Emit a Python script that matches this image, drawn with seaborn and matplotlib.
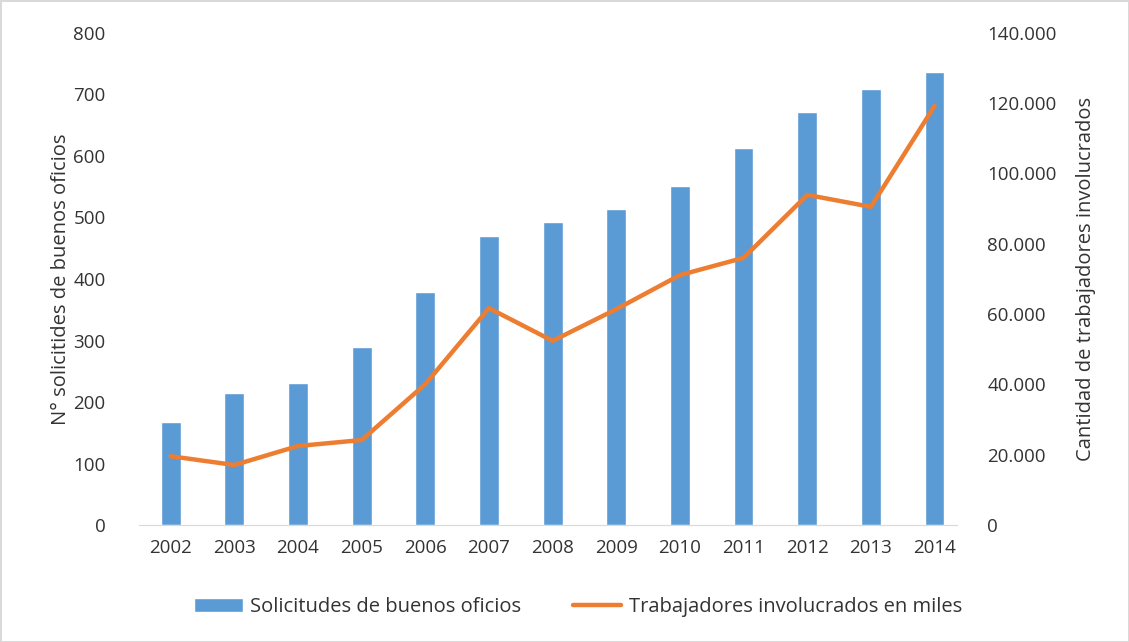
import seaborn as sns
import pandas as pd
import matplotlib.pyplot as plt
from matplotlib.ticker import FuncFormatter

years = ["2002", "2003", "2004", "2005", "2006", "2007", "2008",
         "2009", "2010", "2011", "2012", "2013", "2014"]
solicitudes = [168, 214, 231, 290, 378, 469, 492, 514, 551, 612, 672, 708, 736]
trabajadores = [19600, 17100, 22500, 24200, 40100, 61700, 52400,
                61400, 71100, 76000, 93900, 90500, 119200]

df = pd.DataFrame({"year": years, "sol": solicitudes, "trab": trabajadores})

sns.set_style("white")
plt.rcParams["font.family"] = ["Open Sans", "DejaVu Sans"]

blue = "#5B9BD5"
orange = "#ED7D31"
txt = "#333333"

fig = plt.figure(figsize=(11.29, 6.42), dpi=100)
fig.patch.set_edgecolor("#d9d9d9")
fig.patch.set_linewidth(2)
ax = fig.add_axes([0.123, 0.182, 0.733, 0.767])

sns.barplot(data=df, x="year", y="sol", color=blue, width=0.31,
            saturation=1, ax=ax, label="Solicitudes de buenos oficios")
ax.set_ylim(0, 800)
ax.set_yticks(range(0, 801, 100))

ax2 = ax.twinx()
sns.pointplot(data=df, x="year", y="trab", color=orange, markers="",
              linewidth=3.2, ax=ax2, label="Trabajadores involucrados en miles")
ax2.set_ylim(0, 140000)
ax2.set_yticks(range(0, 140001, 20000))
ax2.yaxis.set_major_formatter(FuncFormatter(lambda v, p: f"{int(v):,}".replace(",", ".")))

for a in (ax, ax2):
    for s in a.spines.values():
        s.set_visible(False)
    a.tick_params(length=0, labelsize=13.5, colors=txt)
    if a.legend_:
        a.legend_.remove()
ax.spines["bottom"].set_visible(True)
ax.spines["bottom"].set_color("#d9d9d9")
ax.spines["bottom"].set_bounds(-0.5, 12.35)
ax.tick_params(axis="y", pad=24)
ax.tick_params(axis="x", pad=10)
ax2.tick_params(axis="y", pad=15)
ax.set_xlim(-0.5, 12.5)

ax.set_xlabel("")
ax.set_ylabel("N° solicitides de buenos oficios", fontsize=14.5, color=txt, labelpad=2)
ax2.set_ylabel("Cantidad de trabajadores involucrados", fontsize=14.5, color=txt, labelpad=14)

h1, l1 = ax.get_legend_handles_labels()
h2, l2 = ax2.get_legend_handles_labels()
fig.legend(h1 + h2, l1 + l2, loc="center", bbox_to_anchor=(0.512, 0.055), ncol=2,
           frameon=False, fontsize=14.5, handlelength=2.4, handletextpad=0.35,
           columnspacing=2.6, labelcolor=txt)

fig.savefig("out.png", dpi=100)
